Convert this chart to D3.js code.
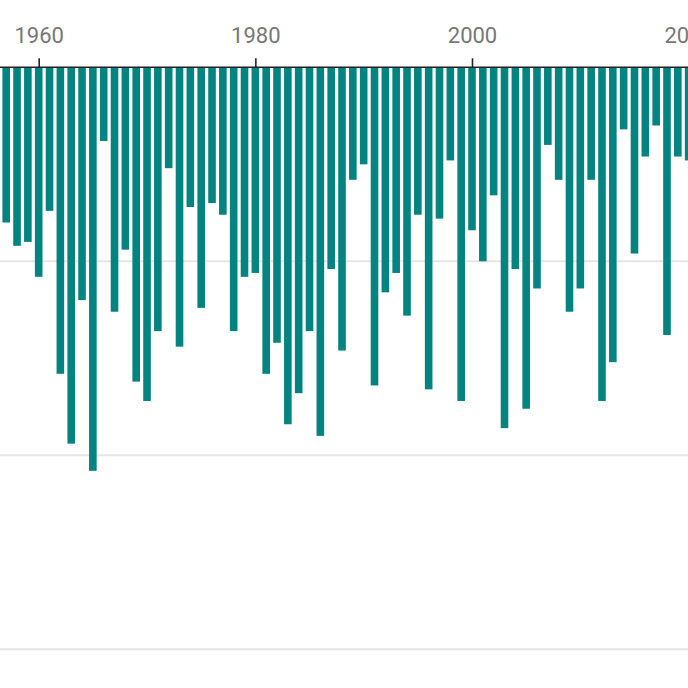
<!DOCTYPE html>
<html>
<head>
<meta charset="utf-8">
<script src="https://cdn.jsdelivr.net/npm/d3@7"></script>
<style>
  body { margin: 0; background: #fff; }
  .tick text { font-family: Roboto, sans-serif; }
</style>
</head>
<body>
<div id="vis"></div>
<script>
// chart data
const YEARS = d3.range(1957, 2021);
const VALUES = [
  -8.0, -9.2, -9.0, -10.8, -7.4, -15.8, -19.4, -12.0, -20.8, -3.8,
  -12.6, -9.4, -16.2, -17.2, -13.6, -5.2, -14.4, -7.2, -12.4, -7.0,
  -7.6, -13.6, -10.8, -10.6, -15.8, -14.2, -18.4, -16.8, -13.6, -19.0,
  -10.4, -14.6, -5.8, -5.0, -16.4, -11.6, -10.6, -12.8, -7.6, -16.6,
  -7.8, -4.8, -17.2, -8.4, -10.0, -6.6, -18.6, -10.4, -17.6, -11.4,
  -4.0, -5.8, -12.6, -11.4, -5.8, -17.2, -15.2, -3.2, -9.6, -4.6,
  -3.0, -13.8, -4.6, -4.8
];
const X_TICKS = [1960, 1980, 2000, 2020];
const GRID_VALUES = [-10, -20, -30];

const data = YEARS.map((y, i) => ({year: y, value: VALUES[i]}));

const FRAME_WIDTH = 688;
const FRAME_HEIGHT = 688;
const BAR_WIDTH = 7.6;

const svg = d3.select("#vis")
  .append("svg")
    .attr("width", FRAME_WIDTH)
    .attr("height", FRAME_HEIGHT);

const xScale = d3.scaleLinear()
  .domain([1960, 2000])
  .range([38.7, 472]);

const yScale = d3.scaleLinear()
  .domain([0, -30])
  .range([67.3, 649.3]);

// gridlines
svg.append("g")
  .selectAll("line")
  .data(GRID_VALUES)
  .enter()
  .append("line")
    .attr("x1", 0)
    .attr("x2", FRAME_WIDTH)
    .attr("y1", d => yScale(d))
    .attr("y2", d => yScale(d))
    .attr("stroke", "#e6e6e6")
    .attr("stroke-width", 2);

// bars hang down from zero
svg.append("g")
  .selectAll("rect")
  .data(data)
  .enter()
  .append("rect")
    .attr("x", d => xScale(d.year) - BAR_WIDTH / 2)
    .attr("y", yScale(0))
    .attr("width", BAR_WIDTH)
    .attr("height", d => yScale(d.value) - yScale(0))
    .attr("fill", "#038481");

// top axis
const xAxis = d3.axisTop(xScale)
  .tickValues(X_TICKS)
  .tickFormat(d3.format("d"))
  .tickSize(9)
  .tickPadding(15);

const axisG = svg.append("g")
  .attr("transform", `translate(0, ${yScale(0)})`)
  .call(xAxis);

axisG.select(".domain")
  .attr("d", `M0,0H${FRAME_WIDTH}`)
  .attr("stroke", "#222")
  .attr("stroke-width", 1.6);

axisG.selectAll(".tick line")
  .attr("stroke", "#222")
  .attr("stroke-width", 1.6);

axisG.selectAll(".tick text")
  .attr("fill", "#777")
  .attr("font-size", 22);
</script>
</body>
</html>
